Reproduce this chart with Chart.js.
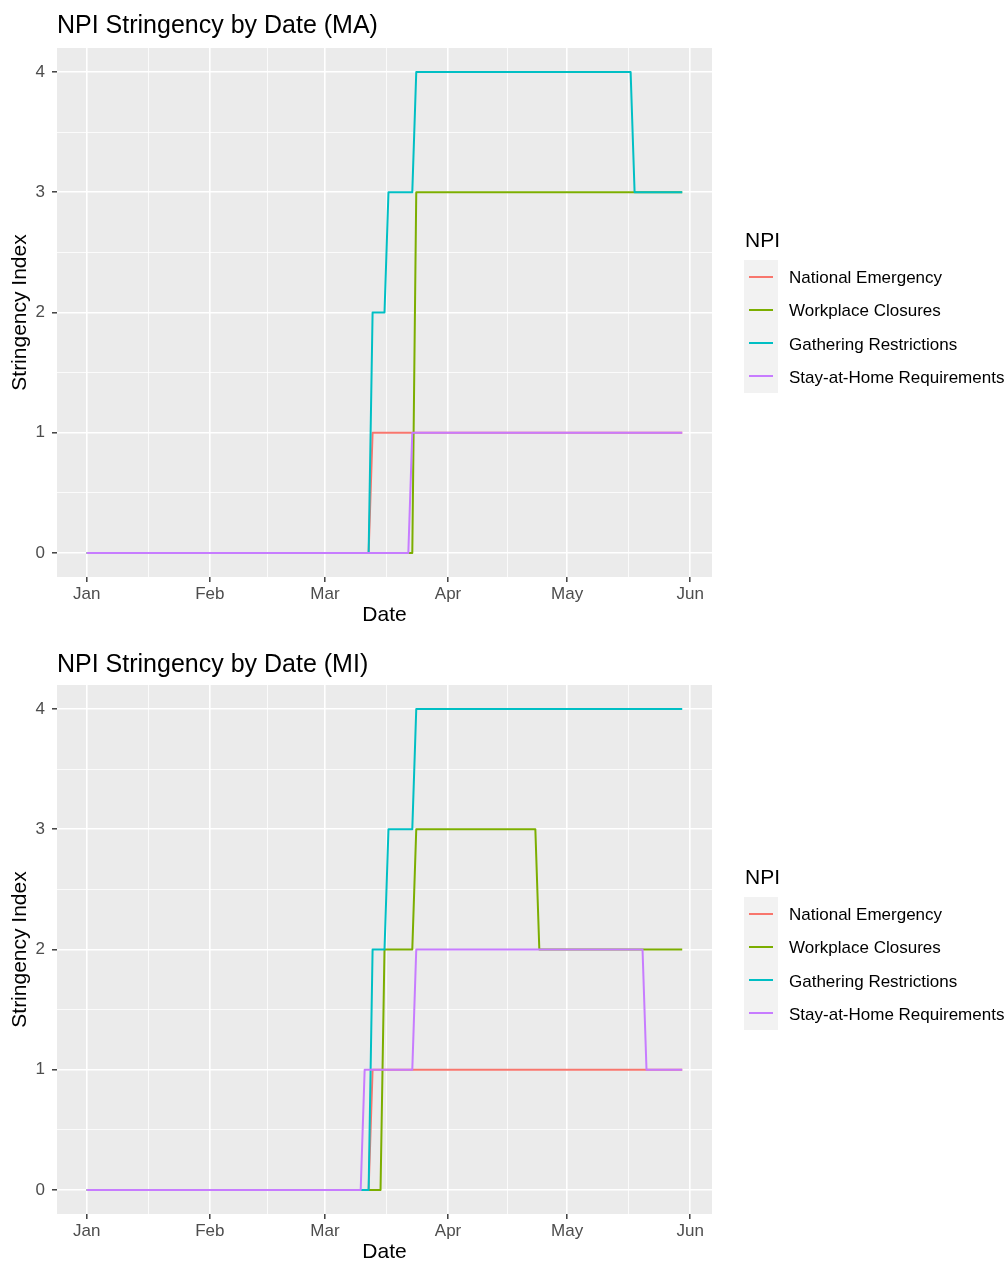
<!DOCTYPE html>
<html><head><meta charset="utf-8">
<script src="https://cdn.jsdelivr.net/npm/chart.js@4.4.1/dist/chart.umd.min.js"></script>
<style>
html,body{margin:0;padding:0;background:#fff;}
body{width:1008px;height:1261px;position:relative;overflow:hidden;font-family:"Liberation Sans",Arial,Helvetica,sans-serif;}
.panel{position:absolute;left:0;width:1008px;height:637px;}
.panel canvas{position:absolute;left:0;top:0;}
.ptitle{position:absolute;left:57px;font-size:25px;line-height:25px;color:#000;white-space:nowrap;}
.ltitle{position:absolute;left:745px;font-size:21px;line-height:24px;color:#000;}
.lkey{position:absolute;left:744px;width:34px;background:#F2F2F2;}
.lline{position:absolute;left:5px;width:24px;height:2px;}
.llabel{position:absolute;left:789px;font-size:17px;color:#000;white-space:nowrap;}
</style>
</head><body>
<div class="panel" id="pMA" style="top:0px;"><canvas id="cMA" width="1008" height="637"></canvas></div>
<div class="panel" id="pMI" style="top:637px;"><canvas id="cMI" width="1008" height="637"></canvas></div>
<script>
// ---------------- data ----------------
const NPI_NAMES = ['National Emergency', 'Workplace Closures', 'Gathering Restrictions', 'Stay-at-Home Requirements'];
const NPI_COLORS = ['#F8766D', '#7CAE00', '#00BFC4', '#C77CFF'];
const MONTH_LABELS = ['Jan', 'Feb', 'Mar', 'Apr', 'May', 'Jun'];
const MONTH_DATES = ['2020-01-01', '2020-02-01', '2020-03-01', '2020-04-01', '2020-05-01', '2020-06-01'];
const Y_TICKS = [0, 1, 2, 3, 4];

// Massachusetts (step points: date, value)
const MA_NE_DATES = ['2020-01-01', '2020-03-12', '2020-03-13', '2020-05-30'];
const MA_NE_VALUES = [0, 0, 1, 1];
const MA_WC_DATES = ['2020-01-01', '2020-03-23', '2020-03-24', '2020-05-30'];
const MA_WC_VALUES = [0, 0, 3, 3];
const MA_GR_DATES = ['2020-01-01', '2020-03-12', '2020-03-13', '2020-03-16', '2020-03-17', '2020-03-23', '2020-03-24', '2020-05-17', '2020-05-18', '2020-05-30'];
const MA_GR_VALUES = [0, 0, 2, 2, 3, 3, 4, 4, 3, 3];
const MA_SH_DATES = ['2020-01-01', '2020-03-22', '2020-03-23', '2020-05-30'];
const MA_SH_VALUES = [0, 0, 1, 1];

// Michigan
const MI_NE_DATES = ['2020-01-01', '2020-03-12', '2020-03-13', '2020-05-30'];
const MI_NE_VALUES = [0, 0, 1, 1];
const MI_WC_DATES = ['2020-01-01', '2020-03-15', '2020-03-16', '2020-03-23', '2020-03-24', '2020-04-23', '2020-04-24', '2020-05-30'];
const MI_WC_VALUES = [0, 0, 2, 2, 3, 3, 2, 2];
const MI_GR_DATES = ['2020-01-01', '2020-03-12', '2020-03-13', '2020-03-16', '2020-03-17', '2020-03-23', '2020-03-24', '2020-05-30'];
const MI_GR_VALUES = [0, 0, 2, 2, 3, 3, 4, 4];
const MI_SH_DATES = ['2020-01-01', '2020-03-10', '2020-03-11', '2020-03-23', '2020-03-24', '2020-05-20', '2020-05-21', '2020-05-30'];
const MI_SH_VALUES = [0, 0, 1, 1, 2, 2, 1, 1];

// ---------------- helpers ----------------
const FONT = '"Liberation Sans", Arial, Helvetica, sans-serif';
function dayIndex(s) {
  const [y, m, d] = s.split('-').map(Number);
  return Math.round((Date.UTC(y, m - 1, d) - Date.UTC(2020, 0, 1)) / 86400000);
}
function pts(dates, values) { return dates.map((d, i) => ({ x: dayIndex(d), y: values[i] })); }

const xMajor = MONTH_DATES.map(dayIndex);
const xMinor = xMajor.slice(0, -1).map((v, i) => (v + xMajor[i + 1]) / 2);
const xLabelMap = {}; xMajor.forEach((v, i) => xLabelMap[v] = MONTH_LABELS[i]);
const yMinor = Y_TICKS.slice(0, -1).map((v, i) => (v + Y_TICKS[i + 1]) / 2);

const bgPlugin = {
  id: 'panelBg',
  beforeDraw(chart) {
    const { ctx, chartArea: a } = chart;
    ctx.save(); ctx.fillStyle = '#EBEBEB';
    ctx.fillRect(a.left, a.top, a.right - a.left, a.bottom - a.top);
    ctx.restore();
  }
};

function makePanel(panelId, canvasId, title, titleTop, series, canvasH, areaTop, areaBottom, legendTop) {
  const panel = document.getElementById(panelId);
  const t = document.createElement('div'); t.className = 'ptitle'; t.style.top = titleTop + 'px'; t.textContent = title; panel.appendChild(t);
  const lt = document.createElement('div'); lt.className = 'ltitle'; lt.style.top = (legendTop - 32) + 'px'; lt.textContent = 'NPI'; panel.appendChild(lt);
  const rowH = 33.25;
  const key = document.createElement('div'); key.className = 'lkey'; key.style.top = legendTop + 'px'; key.style.height = (rowH * 4) + 'px'; panel.appendChild(key);
  NPI_NAMES.forEach((n, i) => {
    const ln = document.createElement('div'); ln.className = 'lline'; ln.style.top = (rowH * i + rowH / 2 - 1) + 'px'; ln.style.background = NPI_COLORS[i]; key.appendChild(ln);
    const lb = document.createElement('div'); lb.className = 'llabel'; lb.style.top = (legendTop + rowH * i + 1) + 'px'; lb.style.lineHeight = rowH + 'px'; lb.textContent = n; panel.appendChild(lb);
  });

  const datasets = series.map((s, i) => ({
    label: NPI_NAMES[i], data: s, borderColor: NPI_COLORS[i], backgroundColor: NPI_COLORS[i],
    borderWidth: 2, pointRadius: 0, pointHoverRadius: 0, tension: 0, fill: false, order: 4 - i,
    borderJoinStyle: 'round'
  }));
  const all = series.flat().map(p => p.x);
  const dmin = Math.min(...all), dmax = Math.max(...all), ex = (dmax - dmin) * 0.05;
  const isMajorX = ctx => ctx.tick && xMajor.includes(ctx.tick.value);
  const isMajorY = ctx => ctx.tick && Y_TICKS.includes(ctx.tick.value);

  new Chart(document.getElementById(canvasId), {
    type: 'line',
    data: { datasets },
    plugins: [bgPlugin],
    options: {
      responsive: false, animation: false, devicePixelRatio: 1,
      layout: { padding: { top: areaTop, right: 1008 - 712, left: 0, bottom: 0 } },
      plugins: { legend: { display: false }, tooltip: { enabled: false }, title: { display: false } },
      scales: {
        x: {
          type: 'linear', min: dmin - ex, max: dmax + ex,
          afterBuildTicks: s => { s.ticks = xMajor.concat(xMinor).sort((a, b) => a - b).map(v => ({ value: v })); },
          afterFit: s => { s.height = canvasH - areaBottom; },
          ticks: { autoSkip: false, maxRotation: 0, minRotation: 0, padding: 2, color: '#4D4D4D',
            font: { size: 17, family: FONT }, callback: v => xLabelMap[v] || '' },
          grid: { color: '#FFFFFF', lineWidth: c => isMajorX(c) ? 1.6 : 0.8, tickLength: 5,
            tickColor: c => isMajorX(c) ? '#333333' : 'rgba(0,0,0,0)', tickWidth: 1.4 },
          border: { display: false },
          title: { display: true, text: 'Date', color: '#000', font: { size: 21, family: FONT }, padding: { top: 0, bottom: 9 } }
        },
        y: {
          type: 'linear', min: -0.2, max: 4.2,
          afterBuildTicks: s => { s.ticks = Y_TICKS.concat(yMinor).sort((a, b) => a - b).map(v => ({ value: v })); },
          afterFit: s => { s.width = 57; },
          ticks: { autoSkip: false, padding: 7, color: '#4D4D4D', font: { size: 17, family: FONT },
            callback: v => Y_TICKS.includes(v) ? String(v) : '' },
          grid: { color: '#FFFFFF', lineWidth: c => isMajorY(c) ? 1.6 : 0.8, tickLength: 5,
            tickColor: c => isMajorY(c) ? '#333333' : 'rgba(0,0,0,0)', tickWidth: 1.4 },
          border: { display: false },
          title: { display: true, text: 'Stringency Index', color: '#000', font: { size: 21, family: FONT }, padding: { top: 8, bottom: 0 } }
        }
      }
    }
  });
}

makePanel('pMA', 'cMA', 'NPI Stringency by Date (MA)', 12,
  [pts(MA_NE_DATES, MA_NE_VALUES), pts(MA_WC_DATES, MA_WC_VALUES), pts(MA_GR_DATES, MA_GR_VALUES), pts(MA_SH_DATES, MA_SH_VALUES)],
  637, 48, 577, 260);
makePanel('pMI', 'cMI', 'NPI Stringency by Date (MI)', 14,
  [pts(MI_NE_DATES, MI_NE_VALUES), pts(MI_WC_DATES, MI_WC_VALUES), pts(MI_GR_DATES, MI_GR_VALUES), pts(MI_SH_DATES, MI_SH_VALUES)],
  637, 48, 577, 260);
</script>
</body></html>
